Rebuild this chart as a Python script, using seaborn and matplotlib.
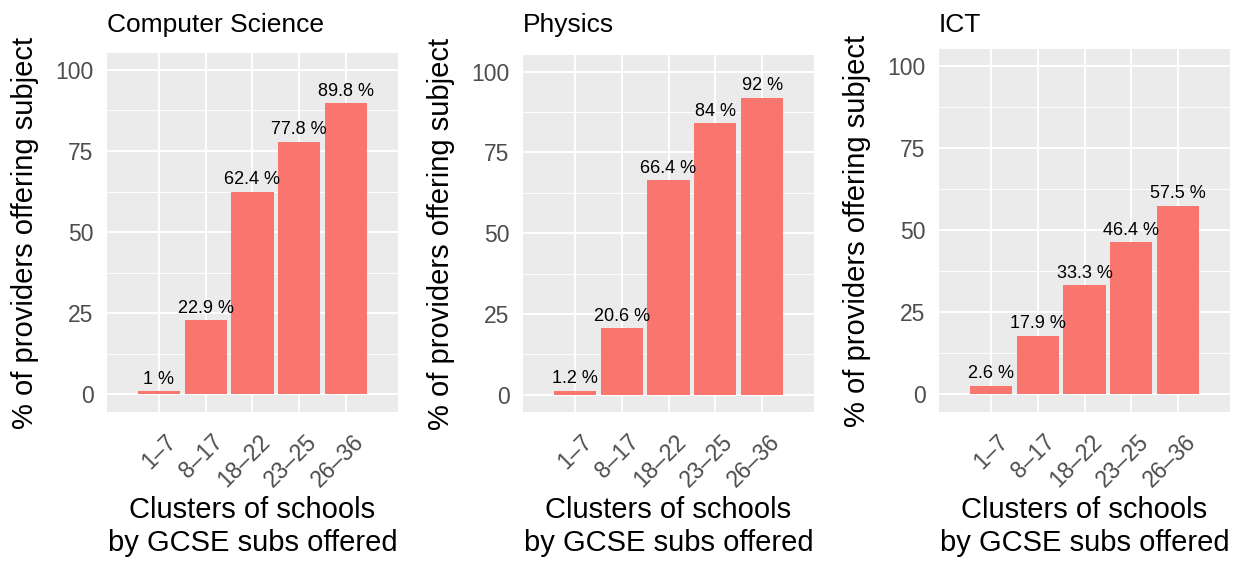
import matplotlib
matplotlib.use("Agg")
import matplotlib.pyplot as plt
import matplotlib.transforms as mtransforms
import seaborn as sns
import pandas as pd

sns.set_theme(style="darkgrid")
plt.rcParams['font.family'] = ['Liberation Sans', 'DejaVu Sans']
plt.rcParams['text.color'] = 'black'
plt.rcParams['axes.labelcolor'] = 'black'

# Data
clusters = ['1–7', '8–17', '18–22', '23–25', '26–36']
computer_science = [1.0, 22.9, 62.4, 77.8, 89.8]
physics = [1.2, 20.6, 66.4, 84.0, 92.0]
ict = [2.6, 17.9, 33.3, 46.4, 57.5]

subjects = ['Computer Science', 'Physics', 'ICT']
values = [computer_science, physics, ict]

bar_color = "#F8766D"
panel_bg = "#EBEBEB"

fig = plt.figure(figsize=(12.41, 5.62), dpi=100)

# panel rectangles in pixels: left, top (bottom and width shared)
W, H = 1241, 562
panels = [(107, 53), (523, 55), (939, 49)]
bottom_px, width_px = 412, 291
title_baseline = 32

for subject, vals, (left_px, top_px) in zip(subjects, values, panels):
    height_px = bottom_px - top_px
    ax = fig.add_axes([left_px / W, (H - bottom_px) / H, width_px / W, height_px / H])
    df = pd.DataFrame({'cluster': clusters, 'pct': vals})
    sns.barplot(data=df, x='cluster', y='pct', color=bar_color,
                saturation=1, width=0.9, linewidth=0, ax=ax, zorder=3)

    # value labels above the bars
    for i, v in enumerate(vals):
        ax.annotate(f"{v:g} %", (i, v), xytext=(0, 2.5), textcoords='offset points',
                    ha='center', va='bottom', fontsize=13, color='black', zorder=4)

    ax.set_facecolor(panel_bg)
    ax.set_xlim(-1.11, 5.11)
    ax.set_ylim(-5.4, 105.2)
    ax.set_yticks([0, 25, 50, 75, 100])
    ax.set_yticks([12.5, 37.5, 62.5, 87.5], minor=True)
    ax.grid(True, which='major', color='white', linewidth=1.4, zorder=0)
    ax.grid(True, which='minor', axis='y', color='white', linewidth=0.7, zorder=0)
    ax.set_axisbelow(True)
    for s in ax.spines.values():
        s.set_visible(False)

    ax.tick_params(axis='both', which='major', length=4.3, width=1.1,
                   color='#333333', labelcolor='#4D4D4D', labelsize=16.5)
    ax.tick_params(axis='y', which='major', pad=5.5)
    ax.tick_params(axis='x', which='major', pad=9)
    ax.tick_params(axis='y', which='minor', length=0)
    ax.set_xticks(range(len(clusters)))
    ax.set_xticklabels(clusters, rotation=45, ha='right', va='top',
                       rotation_mode='anchor')
    shift = mtransforms.ScaledTranslation(6 / 100, 0, fig.dpi_scale_trans)
    for lab in ax.get_xticklabels():
        lab.set_transform(lab.get_transform() + shift)

    ax.set_title(subject, loc='left', fontsize=19,
                 pad=(top_px - title_baseline) * 72 / 100)
    ax.set_ylabel('% of providers offering subject', fontsize=21)
    ax.yaxis.set_label_coords(-68 / width_px, 0.5)
    ax.set_xlabel('Clusters of schools\nby GCSE subs offered', fontsize=21,
                  linespacing=1.22)
    ax.xaxis.set_label_coords(0.5, (bottom_px - 496) / height_px)

fig.savefig("out.png", dpi=100)
